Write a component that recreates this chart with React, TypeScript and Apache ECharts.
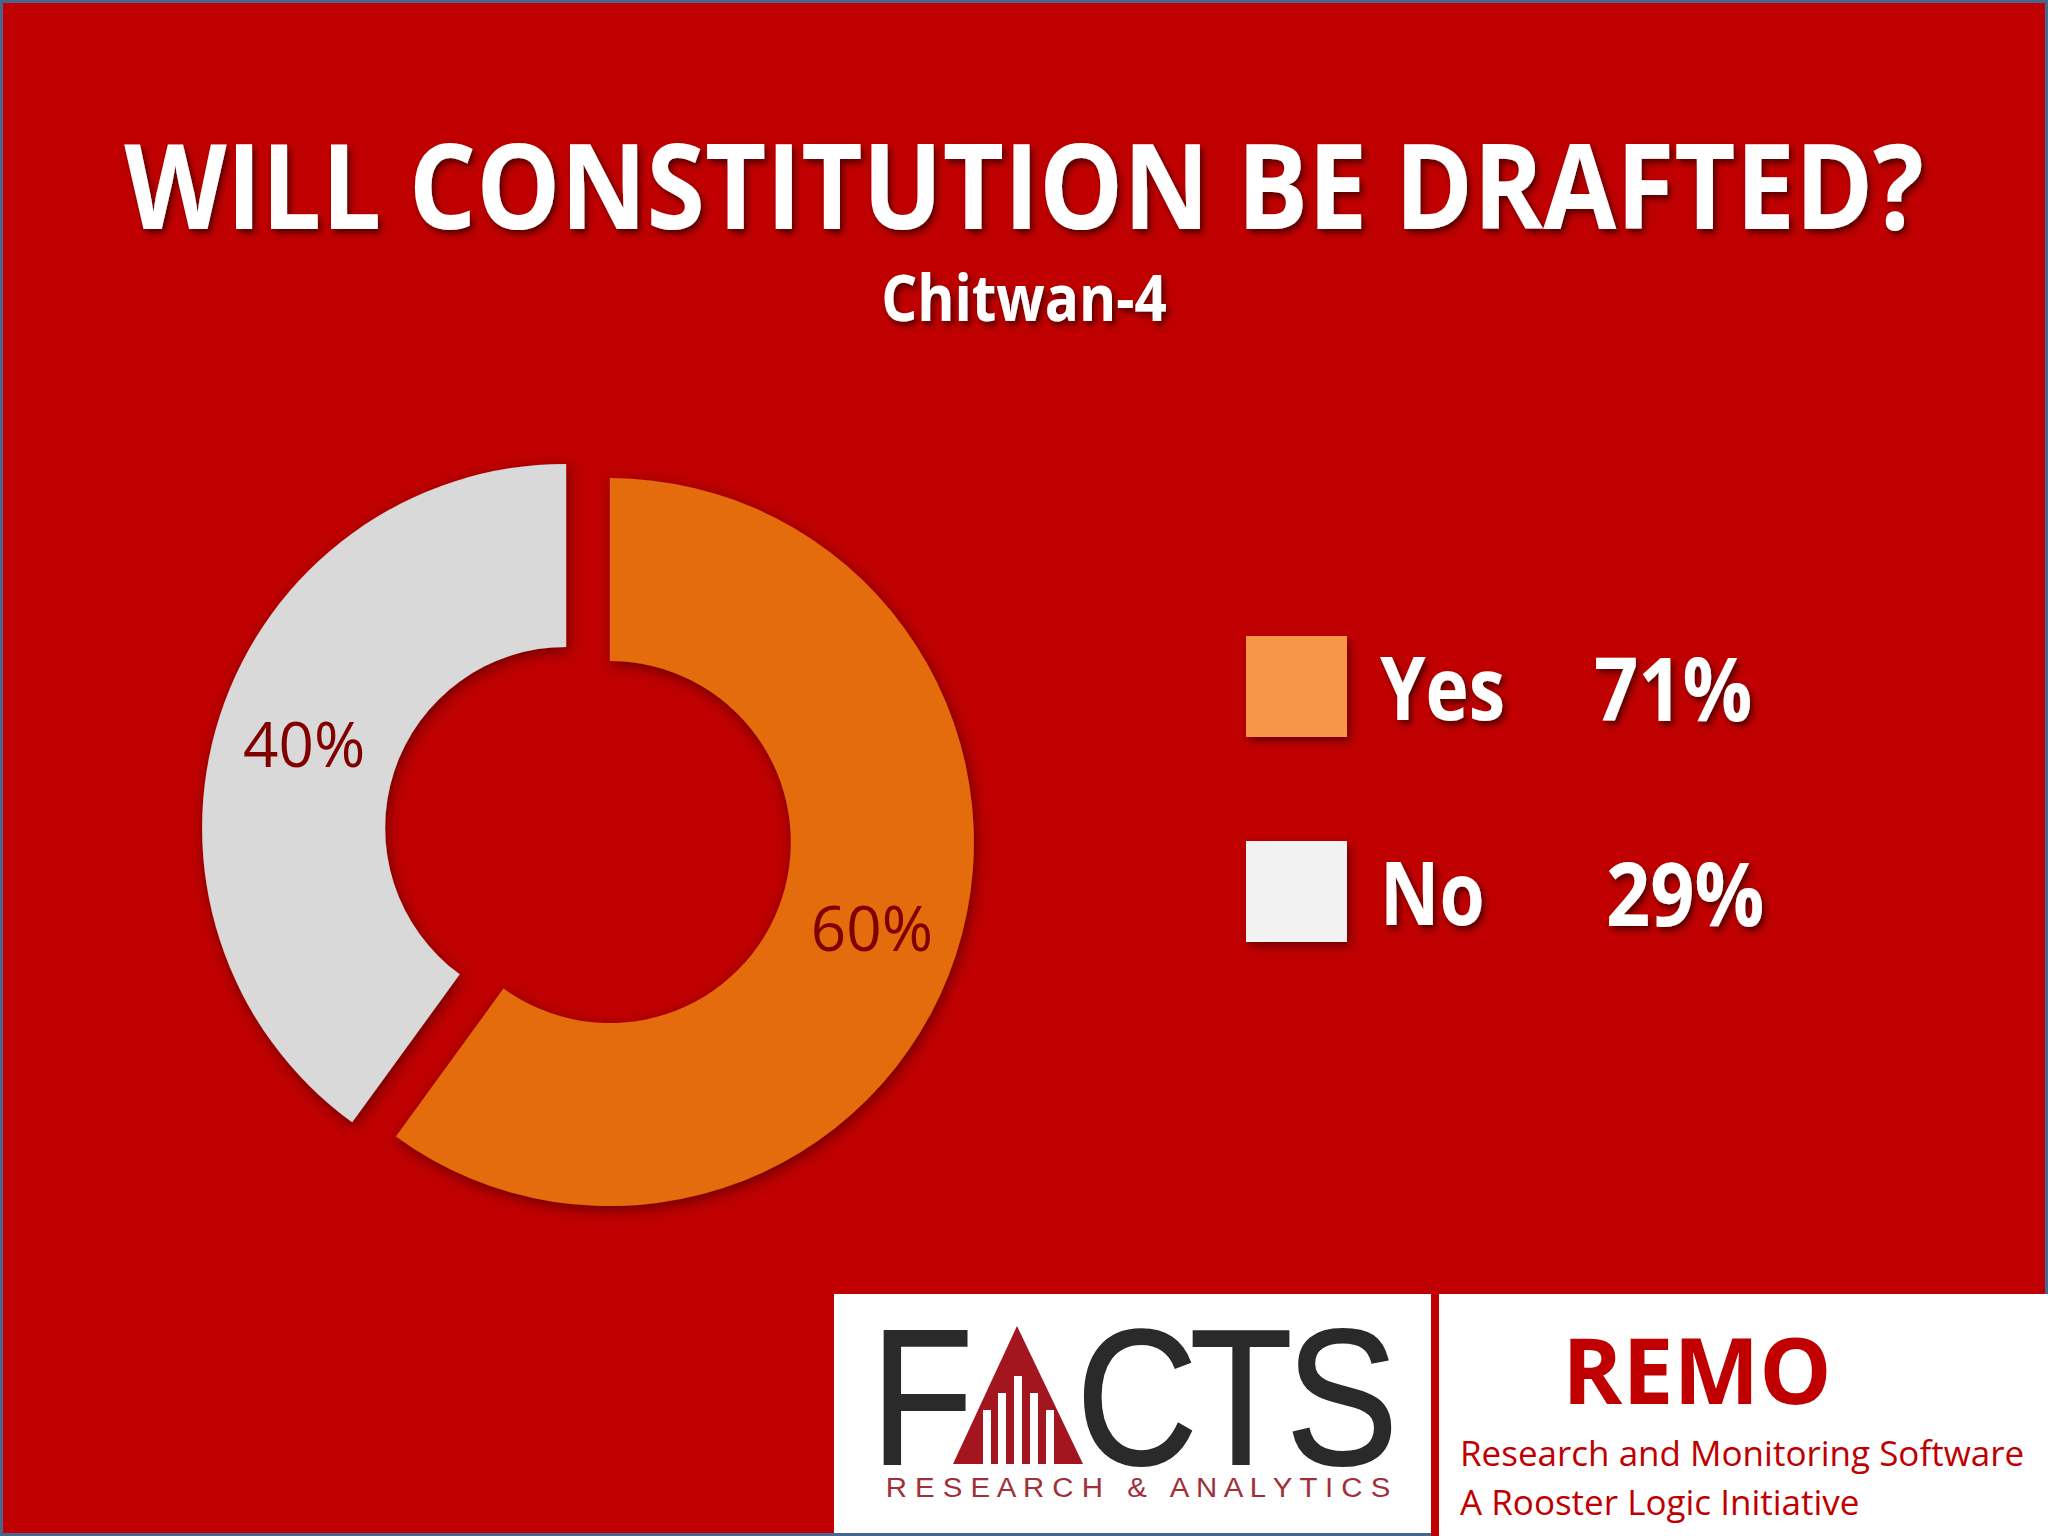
import React, { useEffect, useRef } from "react";
import * as echarts from "echarts";

const titleText = "WILL CONSTITUTION BE DRAFTED?";
const subtitleText = "Chitwan-4";
const categories = ["Yes", "No"];
const pieValues = [60, 40];
const sliceColors = ["#E46C0A", "#D9D9D9"];
const legendLabels = ["Yes", "No"];
const legendValues = ["71%", "29%"];
const legendColors = ["#F79646", "#F2F2F2"];
const logoLetters = ["F", "C", "T", "S"];
const logoTagline = "R E S E A R C H   &   A N A L Y T I C S";
const remoTitle = "REMO";
const remoLines = ["Research and Monitoring Software", "A Rooster Logic Initiative"];

const W = 2048;
const H = 1536;
const BG = "#C00000";
const SANS = "'Open Sans', 'Noto Sans', sans-serif";
const ARIAL = "'Liberation Sans', Arial, sans-serif";

function txt(o: any) {
  const s = o.style || {};
  if (s.textAlign) s.align = s.textAlign;
  if (s.textVerticalAlign) s.verticalAlign = s.textVerticalAlign;
  return { type: "text", ...o, style: s };
}

export default function App() {
  const ref = useRef<HTMLDivElement>(null);
  useEffect(() => {
    if (!ref.current) return;
    const chart = echarts.init(ref.current, null, { renderer: "svg", width: W, height: H });

    const shadow = {
      textShadowColor: "rgba(50,0,0,0.75)",
      textShadowBlur: 6,
      textShadowOffsetX: 3,
      textShadowOffsetY: 4,
    };

    const graphic: any[] = [];

    // frame border
    const border = "#466690";
    graphic.push({ type: "line", shape: { x1: 0, y1: 1.5, x2: W, y2: 1.5 }, style: { stroke: border, lineWidth: 3 } });
    graphic.push({ type: "line", shape: { x1: 1.5, y1: 0, x2: 1.5, y2: H }, style: { stroke: border, lineWidth: 3 } });
    graphic.push({ type: "line", shape: { x1: W - 1.5, y1: 0, x2: W - 1.5, y2: 1294 }, style: { stroke: border, lineWidth: 3 } });
    graphic.push({ type: "line", shape: { x1: 0, y1: H - 1.5, x2: 1431, y2: H - 1.5 }, style: { stroke: border, lineWidth: 3 } });

    // title
    graphic.push(
      txt({
        x: 1024,
        y: 183,
        scaleX: 0.89,
        style: {
          text: titleText,
          fill: "#FFFFFF",
          fontFamily: SANS,
          fontWeight: "bold",
          fontSize: 119,
          textAlign: "center",
          textVerticalAlign: "middle",
          ...shadow,
        },
      })
    );
    graphic.push(
      txt({
        x: 1024,
        y: 296,
        scaleX: 0.885,
        style: {
          text: subtitleText,
          fill: "#FFFFFF",
          fontFamily: SANS,
          fontWeight: "bold",
          fontSize: 64,
          textAlign: "center",
          textVerticalAlign: "middle",
          ...shadow,
        },
      })
    );

    // legend
    legendLabels.forEach((lab, i) => {
      const cy = 686 + i * 205;
      graphic.push({
        type: "rect",
        shape: { x: 1246, y: cy - 50, width: 101, height: 101 },
        style: {
          fill: legendColors[i],
          shadowColor: "rgba(50,0,0,0.6)",
          shadowBlur: 8,
          shadowOffsetX: 3,
          shadowOffsetY: 4,
        },
      });
      graphic.push(
        txt({
          x: 1380,
          y: cy,
          scaleX: 0.83,
          style: {
            text: lab,
            fill: "#FFFFFF",
            fontFamily: SANS,
            fontWeight: "bold",
            fontSize: 88,
            textAlign: "left",
            textVerticalAlign: "middle",
            ...shadow,
          },
        })
      );
      graphic.push(
        txt({
          x: 1594 + i * 12,
          y: cy,
          scaleX: 0.88,
          style: {
            text: legendValues[i],
            fill: "#FFFFFF",
            fontFamily: SANS,
            fontWeight: "bold",
            fontSize: 88,
            textAlign: "left",
            textVerticalAlign: "middle",
            ...shadow,
          },
        })
      );
    });

    // bottom white boxes
    graphic.push({ type: "rect", shape: { x: 834, y: 1294, width: 597, height: 239 }, style: { fill: "#FFFFFF" } });
    graphic.push({ type: "rect", shape: { x: 1439, y: 1294, width: 609, height: 242 }, style: { fill: "#FFFFFF" } });

    // FACTS logo
    const letterX = [922, 1137, 1241, 1342];
    logoLetters.forEach((l, i) => {
      graphic.push(
        txt({
          x: letterX[i],
          y: 1397,
          scaleX: 0.87,
          style: {
            text: l,
            fill: "#2A2A2A",
            stroke: "#2A2A2A",
            lineWidth: 2,
            fontFamily: ARIAL,
            fontSize: 193,
            textAlign: "center",
            textVerticalAlign: "middle",
          },
        })
      );
    });
    graphic.push({
      type: "polygon",
      shape: { points: [[1017, 1326], [953, 1464], [1083, 1464]] },
      style: { fill: "#A3151F" },
    });
    const bars = [
      [987, 1410],
      [1002, 1393],
      [1018, 1376],
      [1034, 1393],
      [1050, 1410],
    ];
    bars.forEach(([bx, by]) => {
      graphic.push({
        type: "rect",
        shape: { x: bx - 4, y: by, width: 8, height: 1464 - by },
        style: { fill: "#FFFFFF" },
      });
    });
    graphic.push(
      txt({
        x: 1138,
        y: 1487,
        scaleX: 1.05,
        style: {
          text: logoTagline,
          fill: "#A0303A",
          fontFamily: ARIAL,
          fontSize: 28,
          textAlign: "center",
          textVerticalAlign: "middle",
        },
      })
    );

    // REMO box
    graphic.push(
      txt({
        x: 1697,
        y: 1369,
        style: {
          text: remoTitle,
          fill: "#C00000",
          fontFamily: SANS,
          fontWeight: "bold",
          fontSize: 91,
          textAlign: "center",
          textVerticalAlign: "middle",
        },
      })
    );
    remoLines.forEach((line, i) => {
      graphic.push(
        txt({
          x: 1460,
          y: 1452 + i * 49,
          scaleX: 1.0,
          style: {
            text: line,
            fill: "#C00000",
            fontFamily: SANS,
            fontSize: 35,
            textAlign: "left",
            textVerticalAlign: "middle",
          },
        })
      );
    });

    chart.setOption({
      animation: false,
      backgroundColor: BG,
      graphic,
      series: [
        {
          type: "pie",
          center: [588, 835],
          radius: [181, 364],
          startAngle: 90,
          clockwise: true,
          selectedMode: "multiple",
          selectedOffset: 23,
          avoidLabelOverlap: false,
          silent: true,
          itemStyle: {
            shadowColor: "rgba(50,0,0,0.6)",
            shadowBlur: 14,
            shadowOffsetX: 2,
            shadowOffsetY: 4,
          },
          label: {
            show: true,
            position: "inside",
            formatter: "{c}%",
            color: "#800000",
            fontFamily: SANS,
            fontSize: 62,
          },
          labelLine: { show: false },
          data: categories.map((c, i) => ({
            name: c,
            value: pieValues[i],
            selected: true,
            itemStyle: { color: sliceColors[i] },
            select: { itemStyle: { color: sliceColors[i], borderWidth: 0 } },
          })),
        },
      ],
    });
    return () => chart.dispose();
  }, []);
  return <div ref={ref} style={{ position: "fixed", left: 0, top: 0, width: W, height: H }} />;
}
